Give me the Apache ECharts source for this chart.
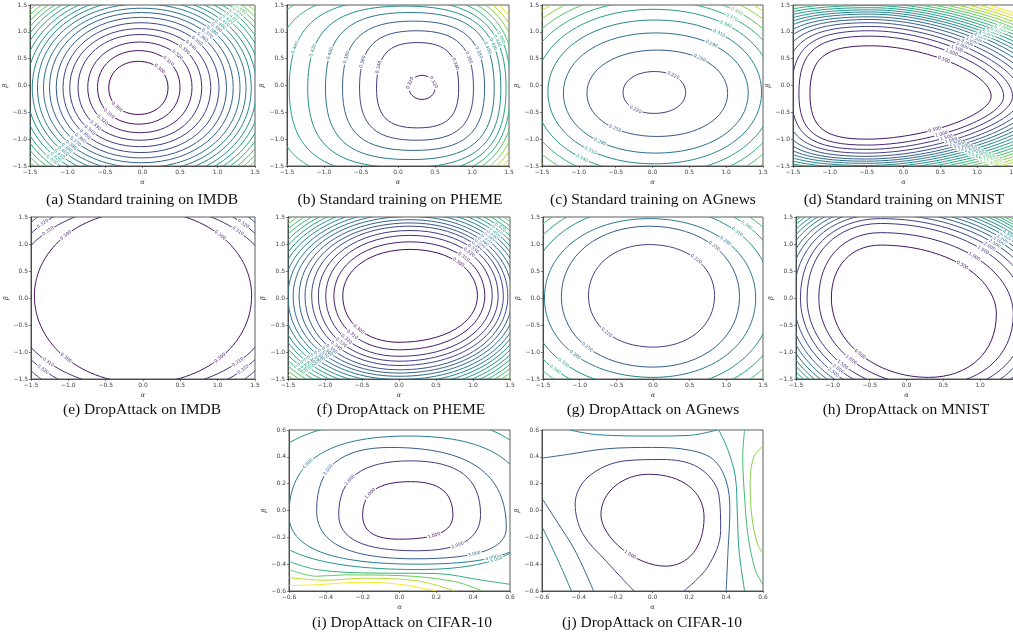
<!DOCTYPE html>
<html><head><meta charset="utf-8">
<script src="https://cdn.jsdelivr.net/npm/echarts/dist/echarts.min.js"></script>
<style>html,body{margin:0;padding:0;background:#fff}#c{width:1013px;height:636px}</style>
</head><body><div id="c"></div><script>
// ---------- DATA ----------
// Each closed contour: level, left/right crossing (alpha), bottom/top crossing (beta)
const imdbStdLevels = [0.300,0.310,0.320,0.330,0.340,0.350,0.360,0.370,0.380,0.390,0.400,0.410,0.420,0.430,0.440,0.450,0.460,0.470,0.480,0.490,0.500];
const imdbStdLeft   = [-0.45,-0.60,-0.73,-0.86,-0.97,-1.06,-1.15,-1.24,-1.32,-1.40,-1.47,-1.54,-1.61,-1.68,-1.74,-1.80,-1.86,-1.92,-1.98,-2.04,-2.10];
const imdbStdRight  = [0.34,0.50,0.66,0.79,0.91,1.02,1.12,1.21,1.30,1.38,1.45,1.52,1.59,1.66,1.72,1.78,1.84,1.90,1.96,2.02,2.08];
const imdbStdBottom = [-0.54,-0.72,-0.88,-1.02,-1.14,-1.25,-1.35,-1.44,-1.53,-1.61,-1.69,-1.77,-1.84,-1.91,-1.98,-2.05,-2.12,-2.18,-2.24,-2.30,-2.36];
const imdbStdTop    = [0.45,0.65,0.81,0.95,1.06,1.17,1.27,1.36,1.44,1.52,1.60,1.67,1.74,1.81,1.88,1.94,2.00,2.06,2.12,2.18,2.24];

const phemeStdLevels = [0.320,0.340,0.360,0.380,0.400,0.420,0.440,0.460,0.480,0.500,0.520,0.540];
const phemeStdLeft   = [0.15,-0.29,-0.52,-0.75,-0.98,-1.22,-1.47,-1.70,-1.92,-2.12,-2.30,-2.46];
const phemeStdRight  = [0.50,0.82,1.02,1.17,1.30,1.39,1.46,1.52,1.58,1.64,1.70,1.76];
const phemeStdBottom = [-0.26,-0.79,-1.02,-1.21,-1.38,-1.53,-1.66,-1.78,-1.88,-1.98,-2.07,-2.15];
const phemeStdTop    = [0.19,0.80,1.02,1.20,1.36,1.48,1.60,1.72,1.83,1.93,2.02,2.10];

const agStdLevels = [0.220,0.250,0.280,0.310,0.340,0.370,0.400,0.430,0.460,0.490];
const agStdLeft   = [-0.40,-0.89,-1.21,-1.42,-1.60,-1.76,-1.90,-2.02,-2.13,-2.23];
const agStdRight  = [0.45,1.02,1.30,1.48,1.64,1.78,1.90,2.02,2.12,2.22];
const agStdBottom = [-0.52,-0.95,-1.26,-1.46,-1.64,-1.80,-1.94,-2.06,-2.17,-2.27];
const agStdTop    = [0.26,0.66,0.98,1.22,1.42,1.58,1.72,1.84,1.95,2.05];

const mnistStdLevels = [0.5,1.0,1.5,2.0,2.5,3.0,3.5,4.0,4.5,5.0,5.5,6.0,6.5,7.0,7.5,8.0,8.5,9.0,9.5,10.0];
const mnistStdLeft   = [-1.27,-1.42,-1.52,-1.62,-1.72,-1.82,-1.92,-2.02,-2.12,-2.22,-2.32,-2.42,-2.52,-2.62,-2.72,-2.82,-2.92,-3.02,-3.12,-3.22];
const mnistStdRight  = [1.19,1.36,1.48,1.60,1.71,1.81,1.91,2.00,2.09,2.18,2.27,2.36,2.45,2.54,2.63,2.72,2.81,2.90,2.99,3.08];
const mnistStdBottom = [-1.00,-1.11,-1.19,-1.26,-1.32,-1.37,-1.41,-1.45,-1.49,-1.53,-1.57,-1.61,-1.65,-1.69,-1.73,-1.77,-1.81,-1.85,-1.89,-1.93];
const mnistStdTop    = [0.74,0.92,1.02,1.10,1.17,1.23,1.28,1.33,1.37,1.41,1.45,1.49,1.53,1.57,1.61,1.65,1.69,1.73,1.77,1.81];

const imdbDropLevels = [0.300,0.310,0.320,0.330];
const imdbDropLeft   = [-1.455,-1.79,-1.89,-1.97];
const imdbDropRight  = [1.455,1.79,1.89,1.97];
const imdbDropBottom = [-1.58,-1.69,-1.88,-2.08];
const imdbDropTop    = [1.62,1.73,1.92,2.12];

const phemeDropLevels = [0.300,0.310,0.320,0.330,0.340,0.350,0.360,0.370,0.380,0.390,0.400,0.410,0.420,0.430,0.440,0.450,0.460,0.470];
const phemeDropLeft   = [-0.76,-0.88,-0.99,-1.09,-1.18,-1.27,-1.35,-1.43,-1.50,-1.57,-1.64,-1.70,-1.76,-1.82,-1.88,-1.94,-2.00,-2.05];
const phemeDropRight  = [1.06,1.16,1.26,1.34,1.41,1.47,1.53,1.59,1.65,1.70,1.75,1.80,1.85,1.90,1.95,2.00,2.05,2.10];
const phemeDropBottom = [-0.82,-0.96,-1.08,-1.17,-1.25,-1.33,-1.39,-1.45,-1.51,-1.57,-1.63,-1.69,-1.75,-1.81,-1.87,-1.93,-1.99,-2.05];
const phemeDropTop    = [0.90,1.04,1.16,1.25,1.33,1.39,1.45,1.51,1.57,1.63,1.69,1.75,1.81,1.87,1.93,1.99,2.05,2.11];

const agDropLevels = [0.220,0.250,0.280,0.310,0.340,0.370,0.400,0.430];
const agDropLeft   = [-0.88,-1.25,-1.48,-1.70,-1.86,-1.99,-2.10,-2.20];
const agDropRight  = [0.84,1.18,1.40,1.62,1.80,1.95,2.07,2.18];
const agDropBottom = [-0.91,-1.28,-1.47,-1.68,-1.85,-1.99,-2.10,-2.20];
const agDropTop    = [0.99,1.33,1.47,1.70,1.87,2.00,2.11,2.22];

const mnistDropLevels = [0.5,1.0,1.5,2.0,2.5,3.0,3.5,4.0,4.5,5.0,5.5,6.0,6.5,7.0,7.5,8.0,8.5,9.0,9.5,10.0];
const mnistDropLeft   = [-1.02,-1.19,-1.35,-1.44,-1.53,-1.61,-1.68,-1.75,-1.81,-1.87,-1.93,-1.98,-2.03,-2.08,-2.13,-2.18,-2.23,-2.28,-2.33,-2.38];
const mnistDropRight  = [1.22,1.45,1.62,1.74,1.84,1.92,1.99,2.05,2.11,2.16,2.21,2.26,2.30,2.34,2.38,2.42,2.46,2.50,2.54,2.58];
const mnistDropBottom = [-1.47,-1.62,-1.75,-1.86,-1.95,-2.03,-2.10,-2.16,-2.22,-2.27,-2.32,-2.37,-2.42,-2.47,-2.52,-2.57,-2.62,-2.67,-2.72,-2.77];
const mnistDropTop    = [0.98,1.21,1.38,1.47,1.55,1.62,1.68,1.74,1.79,1.84,1.89,1.93,1.97,2.01,2.05,2.09,2.13,2.17,2.21,2.25];

const cifarILevels = [1.0,2.0,3.0,4.0,5.0];
const cifarILeft   = [-0.20,-0.33,-0.45,-0.60,-0.78];
const cifarIRight  = [0.29,0.44,0.58,0.72,0.76];
const cifarIBottom = [-0.214,-0.30,-0.36,-0.40,-0.44];
const cifarITop    = [0.215,0.37,0.47,0.555,0.68];
const cifarITopAt  = [0.06,0.06,-0.05,0.05,0.10];
const cifarIBotAt  = [0.0,0.09,0.09,0.10,0.10];
const cifarILeftAt = [-0.035,-0.03,0.0,-0.03,0.07];
const cifarIRightAt= [-0.035,-0.03,-0.13,-0.10,0.05];
const cifarI6 = [[-0.60,-0.38],[-0.45,-0.44],[-0.20,-0.465],[0.20,-0.47],[0.45,-0.52],[0.60,-0.55]];
const cifarI7 = [[-0.60,-0.44],[-0.45,-0.49],[-0.30,-0.48],[0.00,-0.485],[0.30,-0.53],[0.45,-0.60]];
const cifarI8 = [[-0.60,-0.50],[-0.40,-0.52],[-0.20,-0.505],[0.10,-0.525],[0.30,-0.60]];
const cifarI9 = [[-0.60,-0.56],[-0.45,-0.553],[-0.20,-0.535],[0.00,-0.55],[0.20,-0.60]];

const cifarJLevels = [1.0];
const cifarJLeft   = [-0.28];
const cifarJRight  = [0.28];
const cifarJBottom = [-0.415];
const cifarJTop    = [0.27];
const cifarJ2  = [[-0.10,-0.60],[-0.25,-0.38],[-0.38,-0.17],[-0.42,0.05],[-0.35,0.25],[-0.15,0.37],[0.05,0.38],[0.25,0.32],[0.36,0.12],[0.37,-0.15],[0.30,-0.42],[0.17,-0.60]];
const cifarJ3a = [[-0.60,0.39],[-0.45,0.42],[-0.25,0.46],[0.00,0.47],[0.20,0.45],[0.33,0.38],[0.40,0.22],[0.42,0.00],[0.41,-0.30],[0.40,-0.60]];
const cifarJ3b = [[-0.60,0.09],[-0.52,-0.08],[-0.42,-0.30],[-0.32,-0.60]];
const cifarJ4a = [[-0.45,0.60],[-0.30,0.565],[0.00,0.555],[0.20,0.56],[0.35,0.60]];
const cifarJ4b = [[-0.60,-0.12],[-0.52,-0.35],[-0.44,-0.60]];
const cifarJ5  = [[0.36,0.60],[0.41,0.45],[0.45,0.25],[0.46,0.00],[0.47,-0.30],[0.50,-0.60]];
const cifarJ6  = [[0.50,0.60],[0.49,0.40],[0.50,0.10],[0.52,-0.20],[0.56,-0.45],[0.60,-0.55]];
const cifarJ7  = [[0.60,0.48],[0.55,0.40],[0.53,0.20],[0.54,-0.05],[0.57,-0.25],[0.60,-0.32]];

// ---------- STYLE / LAYOUT ----------
const VIR = ['#440154','#472d7b','#3b528b','#2c728e','#21918c','#28ae80','#5ec962','#addc30','#fde725'];
function hex(c){return [parseInt(c.slice(1,3),16),parseInt(c.slice(3,5),16),parseInt(c.slice(5,7),16)];}
function viridis(t){
  t=Math.max(0,Math.min(1,t)); const p=t*8, i=Math.min(7,Math.floor(p)), f=p-i;
  const a=hex(VIR[i]), b=hex(VIR[i+1]);
  return 'rgb('+a.map((v,j)=>Math.round(v+(b[j]-v)*f)).join(',')+')';
}
function pick(a,i,d){return a==null?d:(Array.isArray(a)?a[i]:a);}
function loops(levels,L,R,B,T,tAt,bAt,lAt,rAt){
  return levels.map((lv,i)=>{const cx=(L[i]+R[i])/2, cy=(B[i]+T[i])/2;
    return [lv,L[i],R[i],B[i],T[i],pick(tAt,i,cx),pick(bAt,i,cx),pick(lAt,i,cy),pick(rAt,i,cy)];});
}
const panels = [
 {cap:'(a) Standard training on IMDB', g:[30,5,225,161], cx:142, cy:200, r:1.5, it:0.5,
  data:loops(imdbStdLevels,imdbStdLeft,imdbStdRight,imdbStdBottom,imdbStdTop), k:[0.58,0.58,0.58,0.58], vmin:0.30, vmax:0.52, lab:[[0,0.5],[2,0.5]]},
 {cap:'(b) Standard training on PHEME', g:[287,5,222,161], cx:400, cy:200, r:1.5, it:0.5,
  data:loops(phemeStdLevels,phemeStdLeft,phemeStdRight,phemeStdBottom,phemeStdTop,null,null,-0.05,-0.05), k:[0.72,0.72,0.72,0.72], kFirst:[0.55,0.55,0.55,0.55], vmin:0.30, vmax:0.55, lab:[[0,0.3],[1,0.75]]},
 {cap:'(c) Standard training on AGnews', g:[542,5,221,161], cx:653, cy:200, r:1.5, it:0.5,
  data:loops(agStdLevels,agStdLeft,agStdRight,agStdBottom,agStdTop), k:[0.58,0.58,0.58,0.58], vmin:0.16, vmax:0.49, lab:[[0,0.6],[2,0.6]]},
 {cap:'(d) Standard training on MNIST', g:[793,5,221,161], cx:904, cy:200, r:1.5, it:0.5,
  data:loops(mnistStdLevels,mnistStdLeft,mnistStdRight,mnistStdBottom,mnistStdTop,-0.45,-0.5,-0.15,-0.2), k:[0.45,0.75,0.75,0.45], vmin:0, vmax:10, lab:[[0,0.55],[3,0.4]]},
 {cap:'(e) DropAttack on IMDB', g:[31,217,224,162], cx:142, cy:410, r:1.5, it:0.5,
  data:loops(imdbDropLevels,imdbDropLeft,imdbDropRight,imdbDropBottom,imdbDropTop,null,null,0.04,0.04), k:[0.56,0.56,0.56,0.56], vmin:0.29, vmax:0.45, lab:[[0,0.5],[2,0.5],[1,0.5],[3,0.5]]},
 {cap:'(f) DropAttack on PHEME', g:[288,217,222,162], cx:401, cy:410, r:1.5, it:0.5,
  data:loops(phemeDropLevels,phemeDropLeft,phemeDropRight,phemeDropBottom,phemeDropTop,0.15,0.0), k:[0.58,0.58,0.58,0.58], vmin:0.29, vmax:0.52, lab:[[0,0.5],[2,0.5]]},
 {cap:'(g) DropAttack on AGnews', g:[543,217,220,162], cx:653, cy:410, r:1.5, it:0.5,
  data:loops(agDropLevels,agDropLeft,agDropRight,agDropBottom,agDropTop,-0.05,0.0), k:[0.58,0.58,0.58,0.58], vmin:0.16, vmax:0.46, lab:[[0,0.5],[2,0.5]]},
 {cap:'(h) DropAttack on MNIST', g:[796,217,221,162], cx:906, cy:410, r:1.5, it:0.5,
  data:loops(mnistDropLevels,mnistDropLeft,mnistDropRight,mnistDropBottom,mnistDropTop,-0.35,0.3,0.0,-0.3), k:[0.55,0.6,0.55,0.6], vmin:0, vmax:10, lab:[[0,0.5],[2,0.5]]},
 {cap:'(i) DropAttack on CIFAR-10', g:[289,430,221,161], cx:402, cy:623, r:0.6, it:0.2,
  data:loops(cifarILevels,cifarILeft,cifarIRight,cifarIBottom,cifarITop,cifarITopAt,cifarIBotAt,cifarILeftAt,cifarIRightAt), k:[0.68,0.68,0.68,0.68], vmin:0.5, vmax:9, lab:[[1,0.6],[3,0.4]],
  paths:[[6,cifarI6],[7,cifarI7],[8,cifarI8],[9,cifarI9]]},
 {cap:'(j) DropAttack on CIFAR-10', g:[542,430,221,161], cx:652, cy:623, r:0.6, it:0.2,
  data:loops(cifarJLevels,cifarJLeft,cifarJRight,cifarJBottom,cifarJTop,-0.02,0.07,-0.03,-0.05), k:[0.6,0.55,0.45,0.6], vmin:0.5, vmax:8.5, lab:[[2,0.6]],
  paths:[[2,cifarJ2],[3,cifarJ3a],[3,cifarJ3b],[4,cifarJ4a],[4,cifarJ4b],[5,cifarJ5],[6,cifarJ6],[7,cifarJ7]]}
];

function bez(s,t){const u=1-t;return [0,1].map(j=>u*u*u*s[0][j]+3*u*u*t*s[1][j]+3*u*t*t*s[2][j]+t*t*t*s[3][j]);}
function bezD(s,t){const u=1-t;return [0,1].map(j=>3*u*u*(s[1][j]-s[0][j])+6*u*t*(s[2][j]-s[1][j])+3*t*t*(s[3][j]-s[2][j]));}
function makeRender(p){
  return function(params, api){
    const lv=api.value(0);
    const R=api.coord([api.value(2),api.value(8)]), T=api.coord([api.value(5),api.value(4)]),
          L=api.coord([api.value(1),api.value(7)]), B=api.coord([api.value(6),api.value(3)]);
    const k=(params.dataIndex===0&&p.kFirst)?p.kFirst:p.k;
    const q=[
      [R,[R[0],R[1]+k[0]*(T[1]-R[1])],[T[0]+k[0]*(R[0]-T[0]),T[1]],T],
      [T,[T[0]+k[1]*(L[0]-T[0]),T[1]],[L[0],L[1]+k[1]*(T[1]-L[1])],L],
      [L,[L[0],L[1]+k[2]*(B[1]-L[1])],[B[0]+k[2]*(L[0]-B[0]),B[1]],B],
      [B,[B[0]+k[3]*(R[0]-B[0]),B[1]],[R[0],R[1]+k[3]*(B[1]-R[1])],R]
    ];
    const color=viridis((lv-p.vmin)/(p.vmax-p.vmin));
    const children=q.map(s=>({type:'bezierCurve',silent:true,
      shape:{x1:s[0][0],y1:s[0][1],cpx1:s[1][0],cpy1:s[1][1],cpx2:s[2][0],cpy2:s[2][1],x2:s[3][0],y2:s[3][1]},
      style:{stroke:color,fill:'none',lineWidth:1}}));
    const cs=params.coordSys;
    (p.lab||[]).forEach(([qi,t])=>{
      const s=q[qi], pt=bez(s,t), d=bezD(s,t);
      if(pt[0]<cs.x+8||pt[0]>cs.x+cs.width-8||pt[1]<cs.y+4||pt[1]>cs.y+cs.height-4) return;
      let a=Math.atan2(d[1],d[0]); if(a>Math.PI/2)a-=Math.PI; if(a<-Math.PI/2)a+=Math.PI;
      children.push({type:'text',silent:true,x:pt[0],y:pt[1],rotation:-a,z2:10,
        style:{text:lv.toFixed(3),fill:color,fontSize:4.5,fontFamily:'DejaVu Sans',align:'center',verticalAlign:'middle',
          textAlign:'center',textVerticalAlign:'middle',backgroundColor:'#fff',padding:[0,1]}});
    });
    return {type:'group',children};
  };
}
const fmt=v=>{const s=(Math.round(v*10)/10).toFixed(1);return s.replace('-','\u2212');};
const grid=[],xAxis=[],yAxis=[],series=[],graphic=[];
panels.forEach((p,i)=>{
  grid.push({left:p.g[0],top:p.g[1],width:p.g[2],height:p.g[3],show:true,borderColor:'#333',borderWidth:0.8,backgroundColor:'#fff',containLabel:false,outerBoundsMode:'none'});
  const ax={gridIndex:i,type:'value',min:-p.r,max:p.r,interval:p.it,
    axisLine:{show:true,onZero:false,lineStyle:{color:'#333',width:0.8}},
    axisTick:{show:true,length:2,lineStyle:{color:'#333',width:0.6}},
    axisLabel:{fontSize:6,color:'#444',margin:3,fontFamily:'DejaVu Sans',formatter:fmt,showMinLabel:true,showMaxLabel:true},
    splitLine:{show:false},nameLocation:'middle',
    nameTextStyle:{fontSize:6.5,fontStyle:'italic',color:'#333',fontFamily:'DejaVu Serif'}};
  xAxis.push(Object.assign({},ax,{name:'\u03b1',nameGap:13}));
  yAxis.push(Object.assign({},ax,{name:'\u03b2',nameGap:21,nameRotate:90}));
  series.push({type:'custom',xAxisIndex:i,yAxisIndex:i,clip:true,silent:true,renderItem:makeRender(p),data:p.data,animation:false});
  (p.paths||[]).forEach(([lv,pts])=>{
    series.push({type:'line',xAxisIndex:i,yAxisIndex:i,data:pts,smooth:0.35,symbol:'none',showSymbol:false,clip:true,silent:true,
      lineStyle:{color:viridis((lv-p.vmin)/(p.vmax-p.vmin)),width:1},animation:false});
  });
  graphic.push({type:'text',x:p.cx,y:p.cy,silent:true,style:{text:p.cap,fill:'#111',font:'15.5px "Liberation Serif", "Times New Roman", serif',
    textAlign:'center',textVerticalAlign:'middle',align:'center',verticalAlign:'middle'}});
});
const chart=echarts.init(document.getElementById('c'),null,{renderer:'canvas'});
chart.setOption({animation:false,backgroundColor:'#fff',grid,xAxis,yAxis,series,graphic});
</script></body></html>
